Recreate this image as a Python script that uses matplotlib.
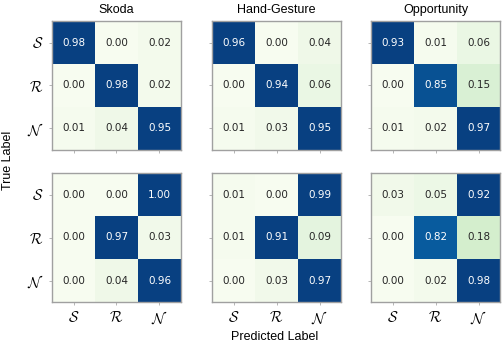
import numpy as np
import matplotlib
matplotlib.use("Agg")
import matplotlib.pyplot as plt

plt.rcParams['mathtext.fontset'] = 'cm'

titles = ["Skoda", "Hand-Gesture", "Opportunity"]
class_labels = [r"$\mathcal{S}$", r"$\mathcal{R}$", r"$\mathcal{N}$"]

# top row
skoda_top = [[0.98, 0.00, 0.02],
             [0.00, 0.98, 0.02],
             [0.01, 0.04, 0.95]]
hand_top = [[0.96, 0.00, 0.04],
            [0.00, 0.94, 0.06],
            [0.01, 0.03, 0.95]]
opp_top = [[0.93, 0.01, 0.06],
           [0.00, 0.85, 0.15],
           [0.01, 0.02, 0.97]]
# bottom row
skoda_bot = [[0.00, 0.00, 1.00],
             [0.00, 0.97, 0.03],
             [0.00, 0.04, 0.96]]
hand_bot = [[0.01, 0.00, 0.99],
            [0.01, 0.91, 0.09],
            [0.00, 0.03, 0.97]]
opp_bot = [[0.03, 0.05, 0.92],
           [0.00, 0.82, 0.18],
           [0.00, 0.02, 0.98]]

mats = [[skoda_top, hand_top, opp_top],
        [skoda_bot, hand_bot, opp_bot]]

W, H = 504, 346
fig = plt.figure(figsize=(W / 100, H / 100), dpi=100)

lefts = [52, 212, 371]
tops = [21, 173]
size = 129

for r in range(2):
    for c in range(3):
        ax = fig.add_axes([lefts[c] / W, 1 - (tops[r] + size) / H, size / W, size / H])
        m = np.array(mats[r][c])
        ax.imshow(m, cmap="GnBu", vmin=0, vmax=0.9, aspect="auto")
        for i in range(3):
            for j in range(3):
                v = m[i, j]
                ax.text(j, i, f"{v:.2f}", ha="center", va="center",
                        fontsize=7.5, color="white" if v > 0.5 else "#262626")
        ax.set_xticks(range(3))
        ax.set_yticks(range(3))
        ax.tick_params(length=2, color="#aaaaaa", width=0.6)
        if c == 0:
            ax.set_yticklabels(class_labels, fontsize=10.5)
        else:
            ax.set_yticklabels([])
        if r == 1:
            ax.set_xticklabels(class_labels, fontsize=10.5)
            ax.tick_params(axis="x", pad=4)
        else:
            ax.set_xticklabels([])
        ax.tick_params(axis="y", pad=4)
        for s in ax.spines.values():
            s.set_color("#a0a0a0")
            s.set_linewidth(1.0)
        if r == 0:
            ax.set_title(titles[c], fontsize=9, family="Liberation Sans", pad=6)

fig.text(8 / W, 1 - 160 / H, "True Label", rotation=90, ha="center", va="center",
         fontsize=9, family="Liberation Sans")
fig.text(275 / W, 1 - 337 / H, "Predicted Label", ha="center", va="center",
         fontsize=9, family="Liberation Sans")

fig.savefig("out.png", dpi=100)
